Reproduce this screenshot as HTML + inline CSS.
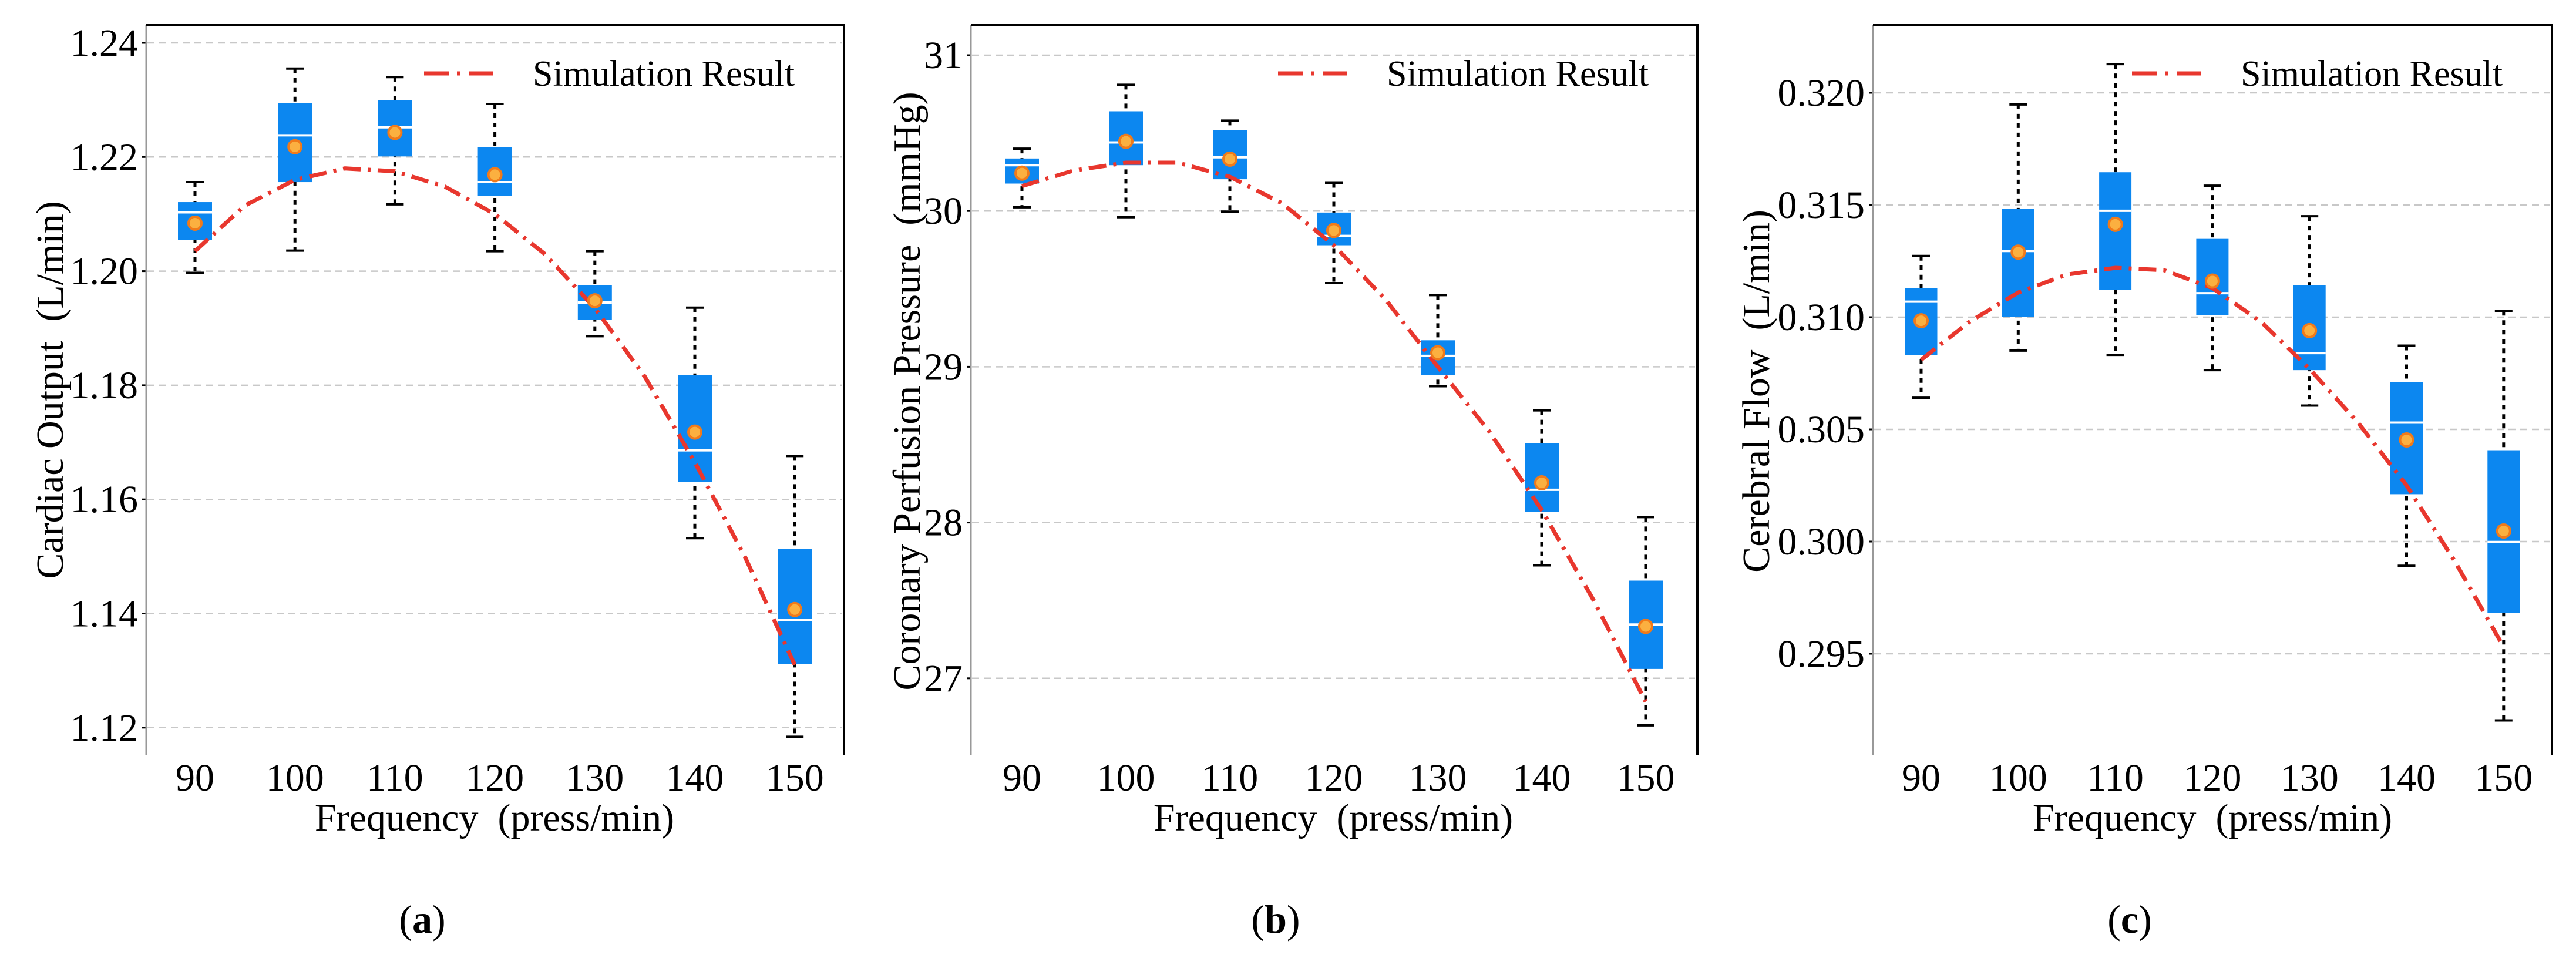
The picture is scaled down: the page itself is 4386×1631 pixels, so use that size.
<!DOCTYPE html>
<html><head><meta charset="utf-8">
<style>
html,body{margin:0;padding:0;background:#fff;}
svg{display:block;font-family:"Liberation Serif",serif;}
</style></head>
<body>
<svg id="fig" width="4386" height="1631" viewBox="0 0 4386 1631" xmlns="http://www.w3.org/2000/svg">
<rect width="4386" height="1631" fill="#fff"/>
</svg>
<script>
const categories = [90, 100, 110, 120, 130, 140, 150];
const simX = [90, 95, 100, 105, 110, 115, 120, 125, 130, 135, 140, 145, 150];

// Panel a: Cardiac Output
const aWhiskerHigh = [1.2156, 1.2355, 1.2340, 1.2293, 1.2035, 1.1936, 1.1676];
const aBoxHigh = [1.2121, 1.2295, 1.2300, 1.2217, 1.1975, 1.1818, 1.1513];
const aMedian = [1.2103, 1.2238, 1.2252, 1.2156, 1.1945, 1.1686, 1.1389];
const aBoxLow = [1.2055, 1.2156, 1.2201, 1.2132, 1.1915, 1.1631, 1.1311];
const aWhiskerLow = [1.1997, 1.2036, 1.2117, 1.2035, 1.1886, 1.1532, 1.1184];
const aMean = [1.2084, 1.2218, 1.2243, 1.2169, 1.1948, 1.1718, 1.1407];
const aSim = [1.2035, 1.2115, 1.2160, 1.2180, 1.2175, 1.2148, 1.2100, 1.2030, 1.1935, 1.1815, 1.1665, 1.1500, 1.1310];
const aTicks = [1.24, 1.22, 1.20, 1.18, 1.16, 1.14, 1.12];
const aTickLabels = ["1.24", "1.22", "1.20", "1.18", "1.16", "1.14", "1.12"];

// Panel b: Coronary Perfusion Pressure
const bWhiskerHigh = [30.40, 30.81, 30.58, 30.18, 29.46, 28.72, 28.035];
const bBoxHigh = [30.337, 30.64, 30.52, 29.99, 29.17, 28.51, 27.627];
const bMedian = [30.294, 30.44, 30.345, 29.84, 29.07, 28.21, 27.345];
const bBoxLow = [30.176, 30.294, 30.204, 29.78, 28.945, 28.067, 27.06];
const bWhiskerLow = [30.024, 29.96, 29.996, 29.537, 28.875, 27.725, 26.698];
const bMean = [30.243, 30.447, 30.333, 29.875, 29.09, 28.255, 27.333];
const bSim = [30.16, 30.26, 30.31, 30.31, 30.22, 30.05, 29.78, 29.43, 29.00, 28.58, 28.08, 27.50, 26.85];
const bTicks = [31, 30, 29, 28, 27];
const bTickLabels = ["31", "30", "29", "28", "27"];

// Panel c: Cerebral Flow
const cWhiskerHigh = [0.31273, 0.31948, 0.32128, 0.31586, 0.3145, 0.30873, 0.31028];
const cBoxHigh = [0.31129, 0.31483, 0.31646, 0.31349, 0.31142, 0.30712, 0.30407];
const cMedian = [0.31069, 0.31295, 0.31474, 0.31107, 0.3084, 0.3053, 0.29998];
const cBoxLow = [0.30832, 0.31001, 0.31123, 0.31009, 0.30764, 0.30211, 0.29682];
const cWhiskerLow = [0.30641, 0.30851, 0.30832, 0.30764, 0.30606, 0.29892, 0.29203];
const cMean = [0.30984, 0.3129, 0.31414, 0.31161, 0.3094, 0.30453, 0.30047];
const cSim = [0.3081, 0.3098, 0.3111, 0.3119, 0.3122, 0.3121, 0.3113, 0.3098, 0.3077, 0.3053, 0.3025, 0.2991, 0.2953];
const cTicks = [0.320, 0.315, 0.310, 0.305, 0.300, 0.295];
const cTickLabels = ["0.320", "0.315", "0.310", "0.305", "0.300", "0.295"];

const NS = "http://www.w3.org/2000/svg";
const svg = document.getElementById("fig");
function mk(tag, attrs, parent, text) {
  const e = document.createElementNS(NS, tag);
  for (const k in attrs) e.setAttribute(k, attrs[k]);
  if (text !== undefined) e.textContent = text;
  (parent || svg).appendChild(e);
  return e;
}

function panel(cfg) {
  const g = mk("g", {});
  
  
  const yS = v => cfg.y0px + (cfg.y0v - v) * cfg.ypu;
  const xS = v => cfg.x0px + (v - 90) / 10 * cfg.xstep;
  cfg.ticks.forEach((t, i) => {
    const y = yS(t);
    const gl = mk("line", {x1: cfg.left + 2, x2: cfg.right - 4, y1: y, y2: y, stroke: "#c8c8c8", "stroke-width": 2.5, "stroke-dasharray": "12 8"}, g);
    
    
    mk("line", {x1: cfg.left - 7, x2: cfg.left, y1: y, y2: y, stroke: "#000", "stroke-width": 3}, g);
    const tl = mk("text", {x: cfg.left - 14, y: y + 22, "font-size": 66, "text-anchor": "end", fill: "#000"}, g, cfg.tickLabels[i]);
    
    
  });
  const sp = mk("path", {d: `M${cfg.left} 43 V1286`, stroke: "#999", "stroke-width": 3, fill: "none"}, g);
  
  
  const sp2 = mk("path", {d: `M${cfg.left} 43 H${cfg.right} V1286`, stroke: "#000", "stroke-width": 4, fill: "none"}, g);
  
  
  const bw = cfg.bw;
  categories.forEach((c, i) => {
    const x = xS(c);
    const wh = mk("line", {x1: x, x2: x, y1: yS(cfg.wh[i]), y2: yS(cfg.wl[i]), stroke: "#000", "stroke-width": 5, "stroke-dasharray": "8 8"}, g);
    
    
    mk("line", {x1: x - 15, x2: x + 15, y1: yS(cfg.wh[i]), y2: yS(cfg.wh[i]), stroke: "#000", "stroke-width": 4}, g);
    mk("line", {x1: x - 15, x2: x + 15, y1: yS(cfg.wl[i]), y2: yS(cfg.wl[i]), stroke: "#000", "stroke-width": 4}, g);
    const bx = mk("rect", {x: x - bw / 2, y: yS(cfg.bh[i]), width: bw, height: yS(cfg.bl[i]) - yS(cfg.bh[i]), fill: "#0c87f0"}, g);
    
    
    const md = mk("line", {x1: x - bw / 2, x2: x + bw / 2, y1: yS(cfg.med[i]), y2: yS(cfg.med[i]), stroke: "#fff", "stroke-width": 4}, g);
    
    
    const xl = mk("text", {x: x, y: 1346, "font-size": 66, "text-anchor": "middle", fill: "#000"}, g, String(c));
    
    
  });
  const pts = simX.map((s, i) => `${xS(s).toFixed(1)},${yS(cfg.sim[i]).toFixed(1)}`).join(" ");
  const cur = mk("polyline", {points: pts, fill: "none", stroke: "#e8372e", "stroke-width": 7, "stroke-dasharray": "30 12 5 12"}, g);
  
  
  categories.forEach((c, i) => {
    const m = mk("circle", {cx: xS(c), cy: yS(cfg.mean[i]), r: 11, fill: "#fbb040", stroke: "#f07a1a", "stroke-width": 4}, g);
    
    
  });
  const lg = mk("g", {}, g);
  
  
  mk("line", {x1: cfg.legX, x2: cfg.legX + 130, y1: 125, y2: 125, stroke: "#e8372e", "stroke-width": 7, "stroke-dasharray": "42 14 6 14"}, lg);
  mk("text", {x: cfg.legTextX, y: 146, "font-size": 62, fill: "#000"}, lg, "Simulation Result");
  const xt = mk("text", {x: cfg.xlabX, y: 1414, "font-size": 66, "text-anchor": "middle", fill: "#000"}, g, "Frequency\u00a0\u00a0(press/min)");
  
  
  const yt = mk("text", {x: 0, y: 0, "font-size": 66, "text-anchor": "middle", fill: "#000", transform: `translate(${cfg.ylabX},${cfg.ylabY}) rotate(-90)`}, g, cfg.ylabel);
  
  
  const cap = mk("text", {x: cfg.capX, y: 1588, "font-size": 68, "text-anchor": "middle", fill: "#000"}, g);
  
  
  mk("tspan", {}, cap, "(");
  mk("tspan", {"font-weight": "bold"}, cap, cfg.letter);
  mk("tspan", {}, cap, ")");
}

panel({name: "panel-a", left: 249, right: 1437, y0v: 1.24, y0px: 73, ypu: 194.3 / 0.02, x0px: 332, xstep: 170.2, bw: 58,
  wh: aWhiskerHigh, bh: aBoxHigh, med: aMedian, bl: aBoxLow, wl: aWhiskerLow, mean: aMean, sim: aSim,
  ticks: aTicks, tickLabels: aTickLabels, legX: 722, legTextX: 907, xlabX: 842, ylabX: 107, ylabY: 664, ylabel: "Cardiac Output\u00a0\u00a0(L/min)", capX: 719, letter: "a"});
panel({name: "panel-b", left: 1653, right: 2890, y0v: 31, y0px: 94, ypu: 265.2, x0px: 1740, xstep: 177, bw: 58,
  wh: bWhiskerHigh, bh: bBoxHigh, med: bMedian, bl: bBoxLow, wl: bWhiskerLow, mean: bMean, sim: bSim,
  ticks: bTicks, tickLabels: bTickLabels, legX: 2176, legTextX: 2361, xlabX: 2270, ylabX: 1566, ylabY: 666, ylabel: "Coronary Perfusion Pressure\u00a0\u00a0(mmHg)", capX: 2172, letter: "b"});
panel({name: "panel-c", left: 3189, right: 4345, y0v: 0.320, y0px: 158, ypu: 191 / 0.005, x0px: 3271, xstep: 165.3, bw: 55,
  wh: cWhiskerHigh, bh: cBoxHigh, med: cMedian, bl: cBoxLow, wl: cWhiskerLow, mean: cMean, sim: cSim,
  ticks: cTicks, tickLabels: cTickLabels, legX: 3630, legTextX: 3815, xlabX: 3767, ylabX: 3012, ylabY: 666, ylabel: "Cerebral Flow\u00a0\u00a0(L/min)", capX: 3626, letter: "c"});
</script>
</body></html>
